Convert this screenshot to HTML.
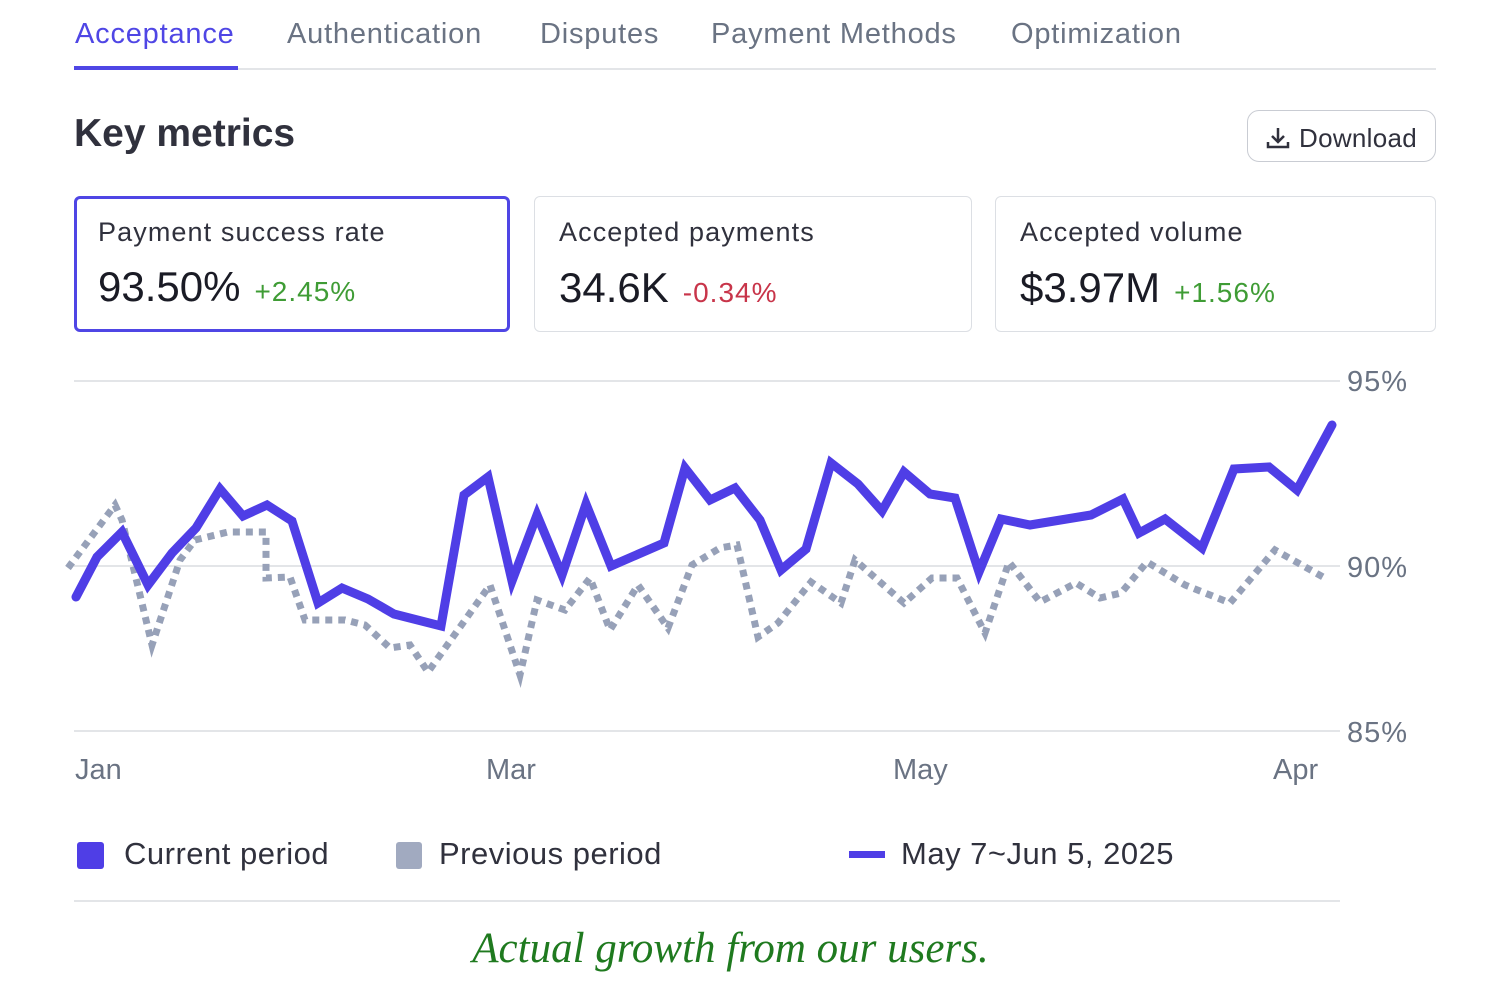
<!DOCTYPE html>
<html><head><style>
body{margin:0;width:1500px;height:1000px;background:#fff;font-family:"Liberation Sans",sans-serif;position:relative;overflow:hidden;color:#30313d}
.a{position:absolute;white-space:nowrap}
.tab{font-size:29px;letter-spacing:0.8px;color:#6a7383;top:18px}
.card{position:absolute;top:196px;height:136px;border:1.5px solid #dcdfe4;border-radius:6px;box-sizing:border-box}
.ct{position:absolute;left:24px;top:20px;font-size:27px;letter-spacing:1.1px;color:#30313d}
.cv{position:absolute;left:24px;top:67px;font-size:42px;color:#1a1b25}
.cd{font-size:28px;letter-spacing:1px;margin-left:14px}
.yl{font-size:29px;letter-spacing:1px;color:#6a7383;left:1347px}
.xl{font-size:29px;color:#6a7383;top:754px}
.lg{font-size:31px;letter-spacing:0.5px;color:#30313d;top:836px}
</style></head><body>
<div class="a tab" style="left:75px;color:#4f46e5">Acceptance</div>
<div class="a tab" style="left:287px">Authentication</div>
<div class="a tab" style="left:540px">Disputes</div>
<div class="a tab" style="left:711px">Payment Methods</div>
<div class="a tab" style="left:1011px">Optimization</div>
<div class="a" style="left:74px;top:68px;width:1362px;height:2px;background:#e3e5e8"></div>
<div class="a" style="left:74px;top:66px;width:164px;height:4px;background:#4f46e5"></div>
<div class="a" style="left:74px;top:112px;font-size:39px;font-weight:bold;color:#30313d">Key metrics</div>
<div class="a" style="left:1247px;top:110px;width:189px;height:52px;border:1.5px solid #c9ccd3;border-radius:12px;box-sizing:border-box"></div>
<svg class="a" style="left:1265px;top:125px" width="26" height="26" viewBox="0 0 26 26"><path d="M13 3v13M7 11l6 6 6-6M3 17v5h20v-5" fill="none" stroke="#30313d" stroke-width="2.5"/></svg>
<div class="a" style="left:1299px;top:123px;font-size:26px;letter-spacing:0.3px;color:#30313d">Download</div>
<div class="card" style="left:74px;width:436px;border:3px solid #4f46e5"><div class="ct" style="left:21px;top:18px">Payment success rate</div><div class="cv" style="left:21px;top:64px">93.50%<span class="cd" style="color:#3f9c35">+2.45%</span></div></div>
<div class="card" style="left:534px;width:438px"><div class="ct">Accepted payments</div><div class="cv">34.6K<span class="cd" style="color:#c8354a">-0.34%</span></div></div>
<div class="card" style="left:995px;width:441px"><div class="ct">Accepted volume</div><div class="cv">$3.97M<span class="cd" style="color:#3f9c35">+1.56%</span></div></div>
<svg class="a" style="left:0;top:0" width="1500" height="1000">
<line x1="74" y1="381" x2="1340" y2="381" stroke="#e3e5e8" stroke-width="2"/>
<line x1="74" y1="566" x2="1340" y2="566" stroke="#e3e5e8" stroke-width="2"/>
<line x1="74" y1="731" x2="1340" y2="731" stroke="#e3e5e8" stroke-width="2"/>
<line x1="74" y1="901" x2="1340" y2="901" stroke="#e3e5e8" stroke-width="2"/>
<polyline fill="none" stroke="#97a1b8" stroke-width="7" stroke-dasharray="7 6" points="68,568 115,505 122,520 152,645 180,560 195,540 228,532 266,532 266,578 290,577 305,620 345,620 365,625 390,648 410,645 428,672 490,585 520,675 537,600 565,610 590,578 610,630 638,585 668,628 692,565 720,548 737,545 758,637 778,623 811,582 841,603 855,560 880,582 904,603 932,578 957,578 985,633 1009,562 1040,602 1076,583 1100,598 1121,593 1147,562 1185,585 1230,603 1275,550 1323,577"/>
<polyline fill="none" stroke="#4f3ee6" stroke-width="9" stroke-linejoin="miter" stroke-linecap="round" points="76,597 97,557 122,532 148,585 172,553 196,528 220,489 243,516 267,505 292,521 318,603 342,588 368,599 394,614 441,626 464,495 488,477 512,581 537,515 562,575 586,504 611,566 664,543 685,468 710,500 735,488 760,520 781,570 806,549 831,463 858,484 882,511 904,472 930,494 955,498 979,572 1001,519 1030,525 1091,515 1123,499 1139,533 1165,519 1202,548 1234,469 1269,467 1297,490 1332,425"/>
<rect x="77" y="842" width="27" height="27" rx="3" fill="#4f3ee6"/>
<rect x="396" y="842" width="26" height="27" rx="3" fill="#a1aac0"/>
<rect x="849" y="851" width="36" height="7" fill="#4f3ee6"/>
</svg>
<div class="a yl" style="top:366px">95%</div>
<div class="a yl" style="top:552px">90%</div>
<div class="a yl" style="top:717px">85%</div>
<div class="a xl" style="left:75px">Jan</div>
<div class="a xl" style="left:486px">Mar</div>
<div class="a xl" style="left:893px">May</div>
<div class="a xl" style="left:1273px">Apr</div>
<div class="a lg" style="left:124px">Current period</div>
<div class="a lg" style="left:439px">Previous period</div>
<div class="a lg" style="left:901px">May 7~Jun 5, 2025</div>
<div class="a" style="left:0;width:1461px;text-align:center;top:924px;font-family:'Liberation Serif',serif;font-style:italic;font-size:43px;color:#1f7a1f">Actual growth from our users.</div>
</body></html>
